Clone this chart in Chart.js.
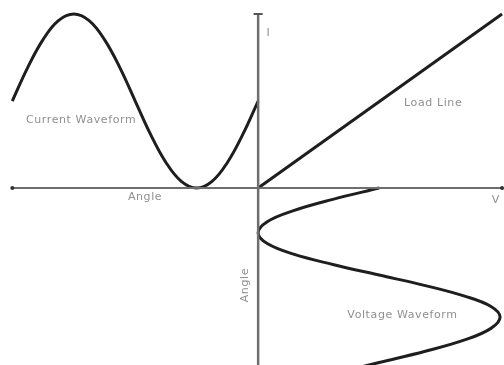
<!DOCTYPE html>
<html>
<head>
<meta charset="utf-8">
<script src="https://cdn.jsdelivr.net/npm/chart.js@4"></script>
<style>
    html, body { margin: 0; padding: 0; background: #fff; }
    #wrap { width: 504px; height: 365px; position: relative; }
</style>
</head>
<body>
<div id="wrap"><canvas id="diagram"></canvas></div>
<script>
// Diagram units: origin at the axes crossing
const currentX = [-10, -9.375, -8.75, -8.125, -7.5, -6.875, -6.25, -5.625, -5, -4.375, -3.75, -3.125, -2.5, -1.875, -1.25, -0.625, 0];
const currentY = [3.54, 4.90, 6.04, 6.81, 7.08, 6.81, 6.04, 4.90, 3.54, 2.18, 1.04, 0.27, 0, 0.27, 1.04, 2.18, 3.54];

const voltageX = [4.92, 3.04, 1.44, 0.37, 0, 0.37, 1.44, 3.04, 4.92, 6.80, 8.40, 9.47, 9.84, 9.47, 8.40, 6.80, 4.92, 3.04];
const voltageY = [0, -0.46, -0.92, -1.37, -1.83, -2.26, -2.69, -3.11, -3.54, -3.97, -4.40, -4.82, -5.25, -5.71, -6.18, -6.64, -7.10, -7.56];

const loadLineX = [0, 9.92];
const loadLineY = [0, 7.08];

const hAxisX = [-10, 9.92];
const vAxisY = [7.08, -7.3];

const labelText = ['Current Waveform', 'Load Line', 'Angle', 'I', 'V', 'Voltage Waveform', 'Angle'];
const labelX = [-7.2, 7.12, -4.6, 0.42, 9.67, 5.87, -0.52];
const labelY = [2.76, 3.47, -0.37, 6.30, -0.49, -5.17, -3.95];
const labelRot = [0, 0, 0, 0, 0, 0, -90];

function pts(xs, ys) {
    return xs.map((x, i) => ({ x: x, y: ys[i] }));
}

const labelsPlugin = {
    id: 'diagramLabels',
    afterDatasetsDraw(chart) {
        const c = chart.ctx;
        const sx = chart.scales.x;
        const sy = chart.scales.y;
        c.save();
        c.fillStyle = '#909090';
        c.font = '11px "DejaVu Sans"';
        c.letterSpacing = '0.6px';
        c.textAlign = 'center';
        c.textBaseline = 'middle';
        labelText.forEach((t, i) => {
            c.save();
            c.translate(sx.getPixelForValue(labelX[i]), sy.getPixelForValue(labelY[i]));
            c.rotate(labelRot[i] * Math.PI / 180);
            c.fillText(t, 0, 0);
            c.restore();
        });
        c.restore();
    }
};

const curveStyle = {
    borderColor: '#1e1e1e',
    borderWidth: 3,
    pointRadius: 0,
    tension: 0.4,
    fill: false,
    showLine: true
};

new Chart(document.getElementById('diagram'), {
    type: 'scatter',
    data: {
        datasets: [
            {
                data: pts(hAxisX, [0, 0]),
                borderColor: '#6e6e6e', borderWidth: 2, showLine: true,
                pointRadius: 2, pointBackgroundColor: '#333', pointBorderWidth: 0
            },
            {
                data: pts([0, 0], vAxisY),
                borderColor: '#6e6e6e', borderWidth: 2.5, showLine: true,
                pointStyle: 'line', pointRadius: [4.5, 0], pointBorderColor: '#555', pointBorderWidth: 2
            },
            Object.assign({ data: pts(currentX, currentY) }, curveStyle),
            Object.assign({ data: pts(loadLineX, loadLineY) }, curveStyle, { tension: 0 }),
            Object.assign({ data: pts(voltageX, voltageY) }, curveStyle)
        ]
    },
    options: {
        responsive: true,
        maintainAspectRatio: false,
        animation: false,
        layout: { padding: 0, autoPadding: false },
        plugins: {
            legend: { display: false },
            tooltip: { enabled: false }
        },
        scales: {
            x: { type: 'linear', min: -10.5, max: 10, display: false },
            y: { type: 'linear', min: -7.2, max: 7.65, display: false }
        }
    },
    plugins: [labelsPlugin]
});
</script>
</body>
</html>
